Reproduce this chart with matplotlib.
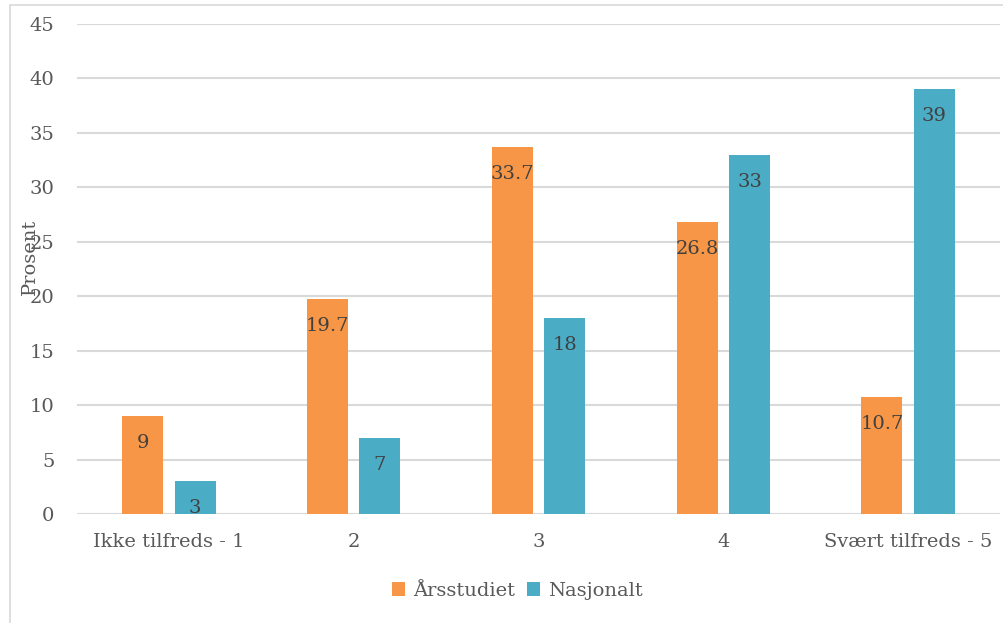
import matplotlib.pyplot as plt
import numpy as np
from matplotlib.patches import Rectangle

kategorier = ['Ikke tilfreds - 1', '2', '3', '4', 'Svært tilfreds - 5']
aarsstudiet = [9, 19.7, 33.7, 26.8, 10.7]
nasjonalt = [3, 7, 18, 33, 39]
etiketter_aar = ['9', '19.7', '33.7', '26.8', '10.7']
etiketter_nas = ['3', '7', '18', '33', '39']

oransje = '#F79646'
blaa = '#4BACC6'
tekst = '#595959'

plt.rcParams['font.family'] = ['DejaVu Serif']

fig = plt.figure(figsize=(10.04, 6.23), dpi=100)
# ramme rundt diagrammet
fig.patches.append(Rectangle((10 / 1004, -0.01), 1.2, 1 - 5 / 623 + 0.01,
                             transform=fig.transFigure, fill=False,
                             edgecolor='#d9d9d9', linewidth=1.2))

ax = fig.add_axes([76.5 / 1004, (623 - 514) / 623, 924 / 1004, 490 / 623])
x = np.arange(len(kategorier))
bredde = 0.222
forskyv = 0.142
b1 = ax.bar(x - forskyv, aarsstudiet, bredde, color=oransje, label='Årsstudiet', zorder=3)
b2 = ax.bar(x + forskyv, nasjonalt, bredde, color=blaa, label='Nasjonalt', zorder=3)

# verdier inne i søylene
for bars, labs in ((b1, etiketter_aar), (b2, etiketter_nas)):
    for bar, lab in zip(bars, labs):
        ax.annotate(lab, (bar.get_x() + bar.get_width() / 2, bar.get_height()),
                    xytext=(0, -27), textcoords='offset pixels',
                    ha='center', va='center', fontsize=14, color='#404040', zorder=4)

ax.set_xlim(-0.5, len(kategorier) - 0.5)
ax.set_ylim(0, 45)
ax.set_yticks(np.arange(0, 46, 5))
ax.set_xticks(x)
ax.set_xticklabels(kategorier)
ax.tick_params(axis='both', length=0, labelsize=14, colors=tekst)
ax.tick_params(axis='y', pad=16)
ax.tick_params(axis='x', pad=14)
ax.grid(axis='y', color='#d9d9d9', linewidth=1.5, zorder=0)
for s in ax.spines.values():
    s.set_visible(False)

ax.set_ylabel('Prosent', fontsize=14, color=tekst)
ax.yaxis.set_label_coords(-37.5 / 924, 0.525)

ax.legend(loc='center', bbox_to_anchor=(0.477, -0.157), ncol=2, frameon=False,
          fontsize=14, labelcolor=tekst, handlelength=0.7, handleheight=0.7,
          handletextpad=0.4, columnspacing=0.6)

plt.savefig('out.png', dpi=100)
